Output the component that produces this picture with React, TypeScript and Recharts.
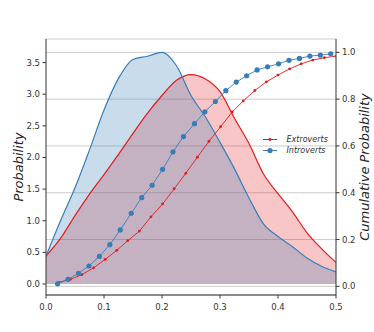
import React from 'react';
import {
  ComposedChart, Area, Line, XAxis, YAxis, CartesianGrid, Legend,
} from 'recharts';

// KDE of the density (left axis), sampled every 0.025
const densityX = [
  0, 0.025, 0.05, 0.075, 0.1, 0.125, 0.15, 0.175, 0.2, 0.225, 0.25,
  0.275, 0.3, 0.325, 0.35, 0.375, 0.4, 0.425, 0.45, 0.475, 0.5,
];
const introvertDensity = [
  0.44, 1.0, 1.52, 2.12, 2.75, 3.25, 3.55, 3.6, 3.66, 3.45, 2.98,
  2.64, 2.24, 1.82, 1.36, 0.95, 0.75, 0.59, 0.41, 0.28, 0.19,
];
const extrovertDensity = [
  0.44, 0.72, 1.08, 1.42, 1.73, 2.05, 2.38, 2.7, 2.98, 3.22, 3.31,
  3.24, 3.04, 2.62, 2.22, 1.74, 1.43, 1.14, 0.81, 0.56, 0.34,
];

// cumulative probability (right axis)
const introvertCdfX = [
  0.02, 0.038, 0.056, 0.074, 0.092, 0.11, 0.128, 0.147, 0.165, 0.183,
  0.201, 0.219, 0.237, 0.256, 0.274, 0.292, 0.31, 0.328, 0.346, 0.364,
  0.382, 0.401, 0.419, 0.437, 0.455, 0.473, 0.491,
];
const introvertCdf = [
  0.011, 0.03, 0.056, 0.087, 0.128, 0.178, 0.241, 0.312, 0.379, 0.432,
  0.5, 0.575, 0.64, 0.695, 0.746, 0.79, 0.836, 0.873, 0.9, 0.925,
  0.938, 0.951, 0.966, 0.974, 0.984, 0.988, 0.994,
];
const extrovertCdfX = [
  0.022, 0.042, 0.062, 0.082, 0.102, 0.122, 0.141, 0.161, 0.181, 0.201,
  0.221, 0.241, 0.261, 0.281, 0.301, 0.321, 0.34, 0.36, 0.38, 0.4,
  0.42, 0.44, 0.46, 0.48, 0.5,
];
const extrovertCdf = [
  0.017, 0.03, 0.05, 0.079, 0.115, 0.154, 0.195, 0.236, 0.297, 0.352,
  0.417, 0.483, 0.552, 0.62, 0.682, 0.745, 0.792, 0.837, 0.874, 0.903,
  0.929, 0.951, 0.967, 0.977, 0.984,
];

const xTicks = [0, 0.1, 0.2, 0.3, 0.4, 0.5];
const leftTicks = [0, 0.5, 1, 1.5, 2, 2.5, 3, 3.5];
const rightTicks = [0, 0.2, 0.4, 0.6, 0.8, 1.0];

const RED = '#e41a1c';
const BLUE = '#377eb8';
const FONT = 'DejaVu Sans';

type Row = { x: number; [key: string]: number | undefined };

// merge every series onto one x-sorted table
const buildRows = () => {
  const map = new Map<number, Row>();
  const put = (xs: number[], ys: number[], key: string) => {
    xs.forEach((x, i) => {
      const row = map.get(x) ?? { x };
      row[key] = ys[i];
      map.set(x, row);
    });
  };
  put(densityX, introvertDensity, 'intro');
  put(densityX, extrovertDensity, 'extro');
  put(introvertCdfX, introvertCdf, 'introCdf');
  put(extrovertCdfX, extrovertCdf, 'extroCdf');
  return Array.from(map.values()).sort((a, b) => a.x - b.x);
};

const tickStyle = { fontSize: 8.5, fill: '#333', fontFamily: FONT };
const titleStyle = { fontSize: 13, fontStyle: 'italic' as const, fill: '#222', fontFamily: FONT };

// rotated axis title, centred on (cx, cy)
const axisTitle = (text: string, dx: number) => (props: any) => {
  const vb = props.viewBox ?? { x: 0, y: 0, width: 0, height: 0 };
  const cx = vb.x + dx;
  const cy = vb.y + vb.height / 2;
  return (
    <text
      x={cx} y={cy} transform={`rotate(-90 ${cx} ${cy})`}
      textAnchor="middle" dominantBaseline="central" style={titleStyle}
    >
      {text}
    </text>
  );
};

const renderLegend = () => {
  const items = [
    { name: 'Extroverts', color: RED, r: 1.4 },
    { name: 'Introverts', color: BLUE, r: 2.6 },
  ];
  return (
    <div>
      {items.map((it) => (
        <div key={it.name} style={{ display: 'flex', alignItems: 'center', height: 11.3 }}>
          <svg width={14} height={11} style={{ marginRight: 9.5 }}>
            <line x1={0} y1={5.5} x2={14} y2={5.5} stroke={it.color} strokeWidth={1} />
            <circle cx={7} cy={5.5} r={it.r} fill={it.color} />
          </svg>
          <span style={{ fontSize: 8, fontStyle: 'italic', color: '#333', fontFamily: FONT }}>{it.name}</span>
        </div>
      ))}
    </div>
  );
};

export default function App() {
  const data = React.useMemo(() => buildRows(), []);
  return (
    <div style={{ position: 'absolute', left: 0, top: 0, width: 374, height: 332, background: '#fff', fontFamily: FONT }}>
      <ComposedChart width={374} height={332} data={data} margin={{ top: 39, right: 0, bottom: 0, left: 0 }}>
        <CartesianGrid vertical={false} yAxisId="right" stroke="#cccccc" strokeWidth={1} />
        <XAxis
          dataKey="x" type="number" domain={[0, 0.5]} ticks={xTicks} height={37}
          tickFormatter={(v: number) => v.toFixed(1)} tick={tickStyle}
          tickSize={3.5} tickMargin={5} stroke="#333" allowDataOverflow
        />
        <XAxis
          xAxisId="top" orientation="top" type="number" domain={[0, 0.5]} height={0}
          tick={false} tickLine={false} stroke="#333"
        />
        <YAxis
          yAxisId="left" type="number" domain={[-0.174, 3.873]} ticks={leftTicks} width={46}
          tickFormatter={(v: number) => v.toFixed(1)} tick={tickStyle}
          tickSize={3.5} tickMargin={2.5} stroke="#333" allowDataOverflow
          label={axisTitle('Probability', 18.5)}
        />
        <YAxis
          yAxisId="right" orientation="right" type="number" domain={[-0.037, 1.057]} ticks={rightTicks} width={38}
          tickFormatter={(v: number) => v.toFixed(1)} tick={tickStyle}
          tickSize={3.5} tickMargin={2.5} stroke="#333" allowDataOverflow
          label={axisTitle('Cumulative Probability', 28)}
        />
        <Area
          yAxisId="left" dataKey="extro" type="monotone" connectNulls baseValue={0}
          fill={RED} fillOpacity={0.25} stroke="none" isAnimationActive={false}
        />
        <Area
          yAxisId="left" dataKey="intro" type="monotone" connectNulls baseValue={0}
          fill={BLUE} fillOpacity={0.27} stroke="none" isAnimationActive={false}
        />
        <Line
          yAxisId="left" dataKey="extro" type="monotone" connectNulls stroke={RED}
          strokeWidth={1.2} dot={false} activeDot={false} isAnimationActive={false} legendType="none"
        />
        <Line
          yAxisId="left" dataKey="intro" type="monotone" connectNulls stroke={BLUE}
          strokeWidth={1.2} dot={false} activeDot={false} isAnimationActive={false} legendType="none"
        />
        <Line
          yAxisId="right" dataKey="extroCdf" type="linear" connectNulls stroke={RED} strokeWidth={0.9}
          dot={{ r: 1.4, fill: RED, stroke: 'none' }} activeDot={false} isAnimationActive={false}
        />
        <Line
          yAxisId="right" dataKey="introCdf" type="linear" connectNulls stroke={BLUE} strokeWidth={0.9}
          dot={{ r: 2.6, fill: BLUE, stroke: 'none' }} activeDot={false} isAnimationActive={false}
        />
        <Legend
          layout="horizontal" verticalAlign="middle" align="center" content={renderLegend}
          wrapperStyle={{ position: 'absolute', left: 263, top: 133.5, width: 90, height: 23 }}
        />
      </ComposedChart>
    </div>
  );
}
